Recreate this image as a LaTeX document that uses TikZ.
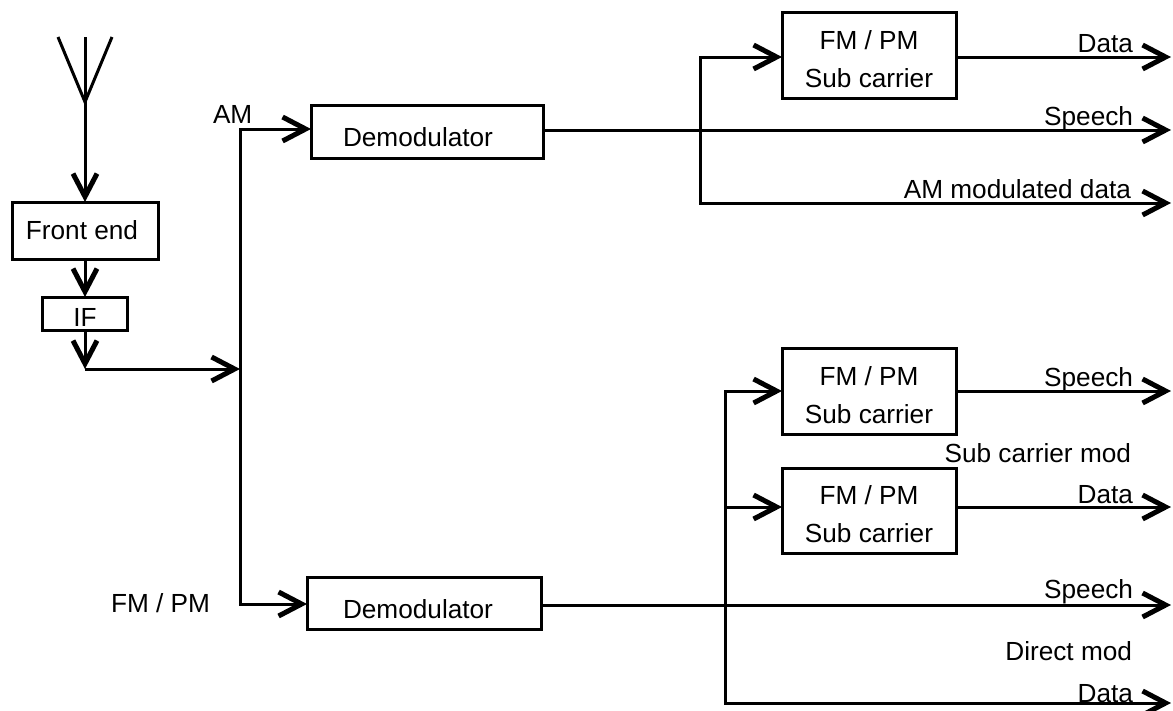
\documentclass[tikz,border=0pt]{standalone}
\usepackage{fontspec}
\setmainfont{Liberation Sans}
\usetikzlibrary{arrows.meta}
\newcommand{\toprule}{\rule{0pt}{27pt}}
\newcommand{\putbase}[2]{\raisebox{-#1pt}[0pt][0pt]{#2}}
\tikzset{
  blk/.style={draw=black,line width=3pt,fill=white,inner sep=0pt,outer sep=0pt,align=center,font=\fontsize{26.2}{38}\selectfont},
  lbl/.style={inner sep=0pt,outer sep=0pt,font=\fontsize{26.2}{30}\selectfont},
  wire/.style={draw=black,line width=3pt,line join=miter},
  arr/.style={wire,-{Straight Barb[length=23pt,width=24pt,line width=5pt]}}
}
\begin{document}
\begin{tikzpicture}[x=1pt,y=-1pt]
\useasboundingbox (0,0) rectangle (1173,710);
% named free ends
\coordinate (anttop) at (85,37);
\coordinate (antapex) at (85,102);
\coordinate (antl) at (58,37);
\coordinate (antr) at (112,37);
\coordinate (jif) at (85,369);
\coordinate (jmain) at (240,369);
\coordinate (jam) at (240,129);
\coordinate (jfm) at (240,604);
\coordinate (vat) at (700,57);
\coordinate (vab) at (700,203);
\coordinate (vam) at (700,130);
\coordinate (vbt) at (725,391);
\coordinate (vbm) at (725,507);
\coordinate (vbb) at (725,703);
\coordinate (oa1) at (1171,57);
\coordinate (oa2) at (1171,130);
\coordinate (oa3) at (1171,203);
\coordinate (ob1) at (1171,391);
\coordinate (ob2) at (1171,507);
\coordinate (ob3) at (1171,605);
\coordinate (ob4) at (1171,703);
% blocks
\node[blk,minimum width=146pt,minimum height=57pt] (front) at (85,230.5) {\hspace*{-6pt}\putbase{8.5}{Front end}};
\node[blk,minimum width=85pt,minimum height=33pt] (ifb) at (85,313.5) {\putbase{13}{IF}};
\node[blk,minimum width=232pt,minimum height=53pt] (dema) at (427,131.5) {\hspace*{-18pt}\putbase{14.5}{Demodulator}};
\node[blk,minimum width=234pt,minimum height=52pt] (demb) at (424,603) {\hspace*{-12pt}\putbase{15}{Demodulator}};
\node[blk,minimum width=174pt,minimum height=86pt] (suba) at (869,55) {\toprule FM / PM\\Sub carrier};
\node[blk,minimum width=174pt,minimum height=86pt] (subb) at (869,391) {\toprule FM / PM\\Sub carrier};
\node[blk,minimum width=174pt,minimum height=85pt] (subc) at (869,510.5) {\toprule FM / PM\\Sub carrier};
% antenna
\draw[wire] (antl) -- (antapex) -- (antr);
\draw[arr] (anttop) -- (front.north);
% chain
\draw[arr] (front.south) -- (ifb.north);
\draw[arr] (ifb.south) -- (jif);
\draw[arr] (jif) -- (jmain);
\draw[wire,line cap=rect] (jam) -- (jfm);
\draw[arr] (jam) -- (dema.west |- jam);
\draw[arr] (jfm) -- (demb.west |- jfm);
% upper outputs
\draw[arr] (dema.east |- vam) -- (oa2);
\draw[wire,line cap=rect] (vat) -- (vab);
\draw[arr] (vat) -- (suba.west |- vat);
\draw[arr] (suba.east |- oa1) -- (oa1);
\draw[arr] (vab) -- (oa3);
% lower outputs
\draw[arr] (demb.east |- ob3) -- (ob3);
\draw[wire,line cap=rect] (vbt) -- (vbb);
\draw[arr] (vbt) -- (subb.west);
\draw[arr] (vbm) -- (subc.west |- vbm);
\draw[arr] (subb.east) -- (ob1);
\draw[arr] (subc.east |- ob2) -- (ob2);
\draw[arr] (vbb) -- (ob4);
% labels
\node[lbl,anchor=base west] (lam) at (213,123) {AM};
\node[lbl,anchor=base west] (lfm) at (111,612) {FM / PM};
\node[lbl,anchor=base east] (t1) at (1133,52) {Data};
\node[lbl,anchor=base east] (t2) at (1133,125) {Speech};
\node[lbl,anchor=base east] (t3) at (1131,198) {AM modulated data};
\node[lbl,anchor=base east] (t4) at (1133,386) {Speech};
\node[lbl,anchor=base east] (t5) at (1131,462) {Sub carrier mod};
\node[lbl,anchor=base east] (t6) at (1133,503) {Data};
\node[lbl,anchor=base east] (t7) at (1133,598) {Speech};
\node[lbl,anchor=base east] (t8) at (1132,660) {Direct mod};
\node[lbl,anchor=base east] (t9) at (1133,702) {Data};
\end{tikzpicture}
\end{document}
